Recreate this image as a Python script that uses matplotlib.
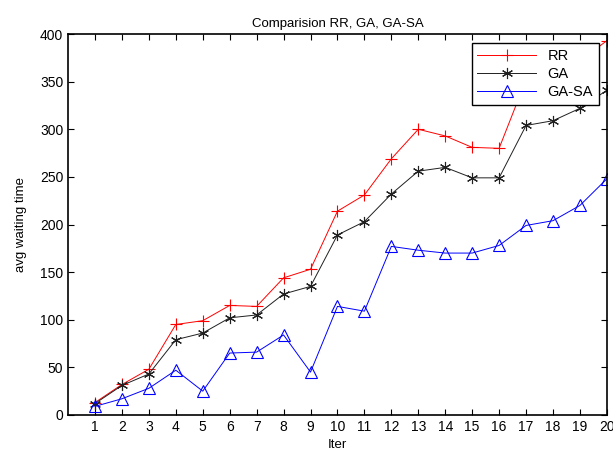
import matplotlib
matplotlib.use("Agg")
import matplotlib.pyplot as plt
import numpy as np

plt.rcParams['font.family'] = ['Liberation Sans', 'DejaVu Sans']

iters = np.arange(1, 21)
rr = [13, 32, 48, 95, 99, 115, 114, 144, 153, 214,
      231, 269, 300, 293, 281, 280, 352, 358, 372, 393]
ga = [12, 31, 43, 79, 86, 102, 105, 127, 135, 189,
      203, 232, 256, 260, 249, 249, 304, 309, 322, 341]
ga_sa = [9, 17, 28, 47, 25, 65, 66, 84, 45, 114,
         109, 177, 173, 170, 170, 178, 199, 204, 220, 248]

fig = plt.figure(figsize=(6.13, 4.54), dpi=100)
ax = fig.add_axes([0.111, 0.086, 0.879, 0.839])

ax.plot(iters, rr, color="red", lw=0.7, marker="+", ms=9, mew=0.8, label="RR")
ax.plot(iters, ga, color="#202020", lw=0.7, marker=(6, 2, 0), ms=8, mew=0.8,
        label="GA")
ax.plot(iters, ga_sa, color="blue", lw=0.7, marker="^", ms=9, mew=0.8,
        mfc="none", label="GA-SA")

ax.set_xlim(0, 20)
ax.set_ylim(0, 400)
ax.set_xticks(iters)
ax.set_yticks(np.arange(0, 401, 50))
ax.tick_params(direction="in", top=True, right=True, labelsize=10, length=4)
for s in ax.spines.values():
    s.set_linewidth(1.2)

ax.set_xlabel("Iter", fontsize=9.5, labelpad=4)
ax.set_ylabel("avg waiting time", fontsize=9.5, labelpad=9)
ax.set_title("Comparision RR, GA, GA-SA", fontsize=9.5, pad=5)

leg = ax.legend(loc="upper right", bbox_to_anchor=(0.985, 0.977), fontsize=10.5,
                fancybox=False, framealpha=1, edgecolor="black",
                borderaxespad=0, handlelength=4.0, labelspacing=0.3,
                borderpad=0.4)
leg.get_frame().set_linewidth(1.0)

fig.savefig("out.png", dpi=100)
